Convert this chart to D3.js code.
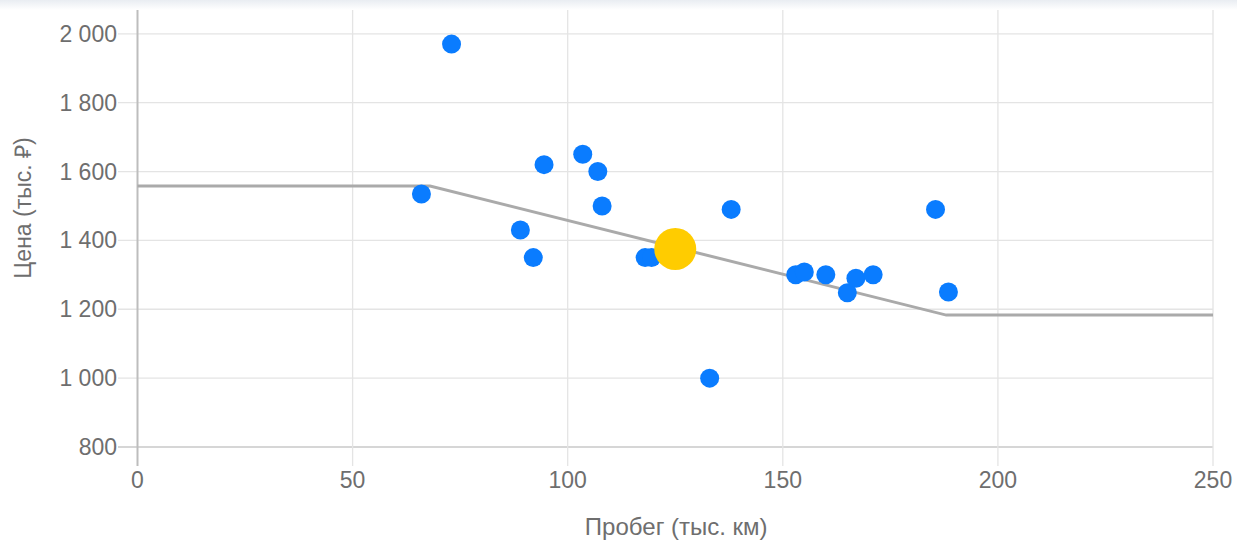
<!DOCTYPE html>
<html>
<head>
<meta charset="utf-8">
<script src="https://cdn.jsdelivr.net/npm/d3@7"></script>
<style>
  body { margin: 0; background: #fff; }
  svg { display: block; font-family: "Liberation Sans", Arial, sans-serif; }
</style>
</head>
<body>
<div id="viz"></div>
<script>
// Данные: пробег (тыс. км) и цена (тыс. ₽)
const probeg = [73, 66, 94.5, 103.5, 107, 108, 89, 92, 118, 119.5, 138, 133, 153, 155, 160, 165, 167, 171, 185.5, 188.5];
const cena   = [1970, 1535, 1620, 1650, 1600, 1500, 1430, 1350, 1350, 1350, 1490, 1000, 1300, 1308, 1300, 1248, 1290, 1300, 1490, 1250];

// Текущий автомобиль (жёлтая точка)
const tekushiyProbeg = 125;
const tekushayaCena = 1375;

// Линия оценки цены
const liniyaX = [0, 68, 188, 250];
const liniyaY = [1558, 1558, 1183, 1183];

const xTicks = [0, 50, 100, 150, 200, 250];
const yTicks = [800, 1000, 1200, 1400, 1600, 1800, 2000];

const width = 1237, height = 540;

const svg = d3.select('#viz').append('svg')
  .attr('width', width)
  .attr('height', height);

const x = d3.scaleLinear().domain([0, 250]).range([137.5, 1213]);
const y = d3.scaleLinear().domain([800, 2072]).range([447, 9]);

const fmt = d3.formatLocale({ decimal: ",", thousands: "\u00a0", grouping: [3], currency: ["", ""] }).format(",");

// тень сверху
const defs = svg.append('defs');
const grad = defs.append('linearGradient').attr('id', 'ten').attr('x1', 0).attr('x2', 0).attr('y1', 0).attr('y2', 1);
grad.append('stop').attr('offset', 0).attr('stop-color', '#e9edf2');
grad.append('stop').attr('offset', 1).attr('stop-color', '#ffffff');

// сетка по Y
svg.append('g').selectAll('line')
  .data(yTicks)
  .enter().append('line')
  .attr('x1', 118).attr('x2', x(250))
  .attr('y1', d => y(d)).attr('y2', d => y(d))
  .attr('stroke', d => d === 800 ? '#c8c8c8' : '#e4e4e4')
  .attr('stroke-width', 1.3);

// сетка по X
svg.append('g').selectAll('line')
  .data(xTicks)
  .enter().append('line')
  .attr('x1', d => x(d)).attr('x2', d => x(d))
  .attr('y1', 9).attr('y2', 466)
  .attr('stroke', d => d === 0 ? '#bdbdbd' : '#e4e4e4')
  .attr('stroke-width', d => d === 0 ? 2 : 1.3);

// подписи Y
svg.append('g').selectAll('text')
  .data(yTicks)
  .enter().append('text')
  .attr('x', 117).attr('y', d => y(d))
  .attr('dy', '0.35em')
  .attr('text-anchor', 'end')
  .attr('fill', '#6e6e6e')
  .attr('font-size', 23)
  .text(d => fmt(d));

// подписи X
svg.append('g').selectAll('text')
  .data(xTicks)
  .enter().append('text')
  .attr('x', d => x(d)).attr('y', 480)
  .attr('dy', '0.35em')
  .attr('text-anchor', 'middle')
  .attr('fill', '#6e6e6e')
  .attr('font-size', 23)
  .text(d => fmt(d));

// названия осей
svg.append('text')
  .attr('x', x(125) + 1).attr('y', 527)
  .attr('dy', '0.35em')
  .attr('text-anchor', 'middle')
  .attr('fill', '#6e6e6e')
  .attr('font-size', 24)
  .text('Пробег (тыс. км)');

svg.append('text')
  .attr('transform', 'translate(23,' + 208 + ') rotate(-90)')
  .attr('dy', '0.35em')
  .attr('text-anchor', 'middle')
  .attr('fill', '#6e6e6e')
  .attr('font-size', 23)
  .text('Цена (тыс. ₽)');

// линия
const liniya = d3.line().x(d => x(d[0])).y(d => y(d[1]));
svg.append('path')
  .datum(liniyaX.map((v, i) => [v, liniyaY[i]]))
  .attr('d', liniya)
  .attr('fill', 'none')
  .attr('stroke', '#aaaaaa')
  .attr('stroke-width', 3);

// точки
svg.append('g').selectAll('circle')
  .data(probeg.map((v, i) => ({ x: v, y: cena[i] })))
  .enter().append('circle')
  .attr('cx', d => x(d.x))
  .attr('cy', d => y(d.y))
  .attr('r', 9.5)
  .attr('fill', '#0a7cff');

svg.append('circle')
  .attr('cx', x(tekushiyProbeg))
  .attr('cy', y(tekushayaCena))
  .attr('r', 21)
  .attr('fill', '#ffcc00');

svg.append('rect')
  .attr('x', 0).attr('y', 0)
  .attr('width', width).attr('height', 10)
  .attr('fill', 'url(#ten)');
</script>
</body>
</html>
